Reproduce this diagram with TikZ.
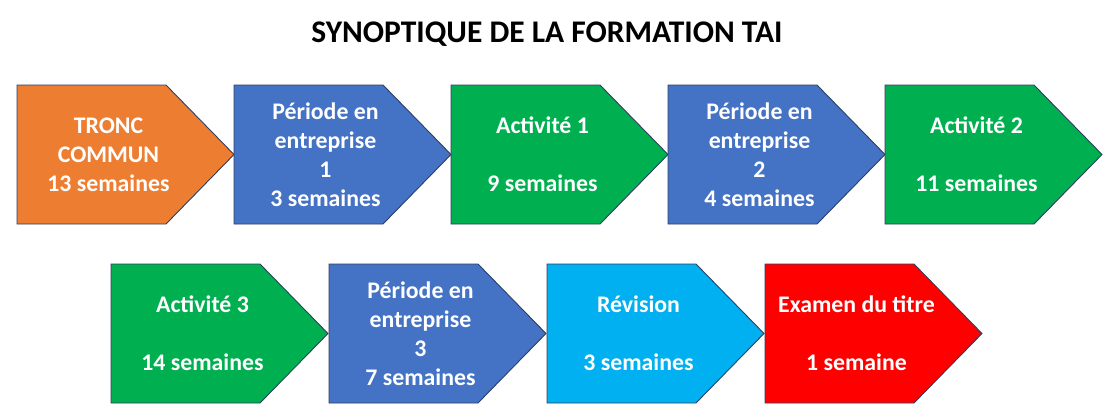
\documentclass[tikz,border=0pt]{standalone}
\usepackage{fontspec}
\setmainfont{Carlito}
\definecolor{corange}{HTML}{ED7D31}
\definecolor{cblue}{HTML}{4472C4}
\definecolor{cgreen}{HTML}{00B050}
\definecolor{ccyan}{HTML}{00B0F0}
\definecolor{cred}{HTML}{FF0000}
\definecolor{cedge}{HTML}{2F3F5F}
\tikzset{
  chevbox/.style={draw=cedge, line width=0.9pt, line join=miter},
  chevtext/.style={text=white, align=center, inner sep=0pt,
    font=\bfseries\fontsize{23.8}{29}\selectfont},
  titletext/.style={font=\bfseries\fontsize{31.5}{36}\selectfont, inner sep=0pt}
}
\newcommand\chev[5]{%
  \draw[chevbox, fill=#4] (#2,#3) -- ++(149,0) -- ++(68,69.5) -- ++(-68,69.5) -- ++(-149,0) -- cycle;
  \node[chevtext] (#1) at (#2+91.5,#3+69.5) {#5};
}
\begin{document}
\begin{tikzpicture}[x=1pt,y=-1pt]
\useasboundingbox (0,0) rectangle (1117,413);
\node[titletext, anchor=base] (title) at (547,42) {SYNOPTIQUE DE LA FORMATION TAI};
\chev{tc}{17}{85}{corange}{TRONC\\COMMUN\\13 semaines}
\chev{pe1}{234}{85}{cblue}{Période en\\entreprise\\1\\3 semaines}
\chev{a1}{451}{85}{cgreen}{Activité 1\\~\\9 semaines}
\chev{pe2}{668}{85}{cblue}{Période en\\entreprise\\2\\4 semaines}
\chev{a2}{885}{85}{cgreen}{Activité 2\\~\\11 semaines}
\chev{a3}{111}{264}{cgreen}{Activité 3\\~\\14 semaines}
\chev{pe3}{329}{264}{cblue}{Période en\\entreprise\\3\\7 semaines}
\chev{rev}{547}{264}{ccyan}{Révision\\~\\3 semaines}
\chev{ex}{765}{264}{cred}{Examen du titre\\~\\1 semaine}
\end{tikzpicture}
\end{document}
